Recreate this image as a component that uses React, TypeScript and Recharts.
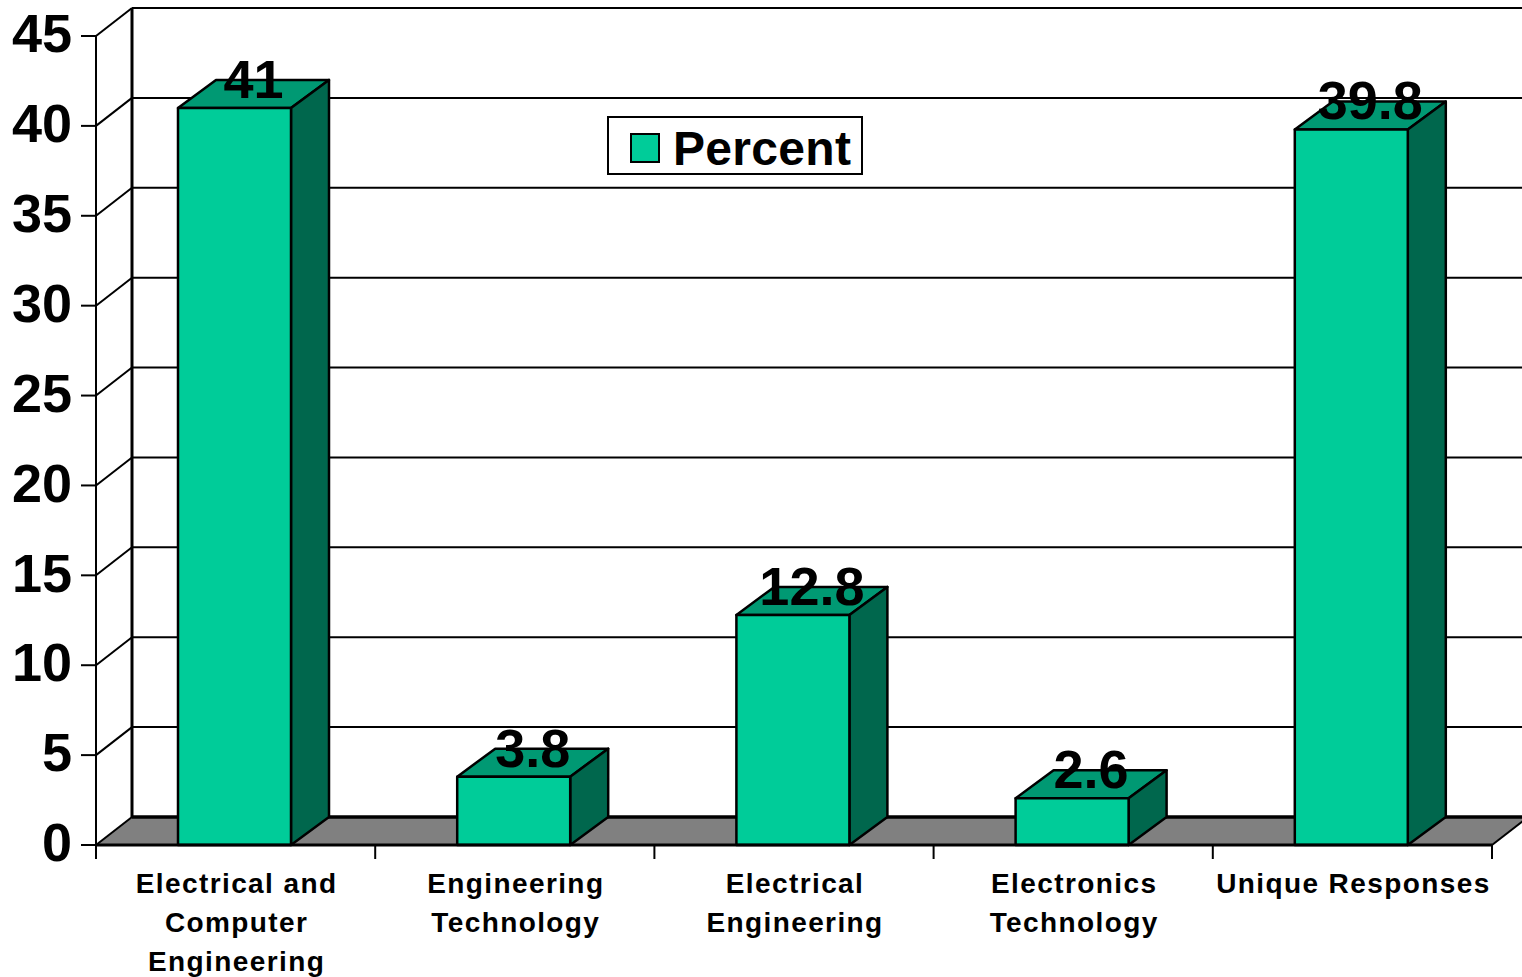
import { BarChart, Bar, XAxis, YAxis, CartesianGrid, Legend, LabelList } from 'recharts';

const categories = [
  'Electrical and\nComputer\nEngineering',
  'Engineering\nTechnology',
  'Electrical\nEngineering',
  'Electronics\nTechnology',
  'Unique Responses',
];
const percent = [41, 3.8, 12.8, 2.6, 39.8];
const yTicks = [0, 5, 10, 15, 20, 25, 30, 35, 40, 45];

const chartData = categories.map((name, i) => ({ name, Percent: percent[i] }));

const FONT = '"Liberation Sans", Arial, sans-serif';
const WIDTH = 1522;
const HEIGHT = 977;
const PLOT_LEFT = 96;
const PLOT_RIGHT = 1492;
const PLOT_TOP = 36;
const PLOT_BOTTOM = 845;
const BAND = (PLOT_RIGHT - PLOT_LEFT) / categories.length;

// fake 3D offsets: back wall, and the depth of each bar
const WALL_X = 36;
const DEPTH_X = 38;
const DEPTH_Y = 28;

const FRONT = '#00CC99';
const TOP = '#009973';
const SIDE = '#00674D';
const FLOOR = '#808080';

// Horizontal grid line pushed onto the back wall, with its diagonal on the side wall
const WallLine = (props: any) => {
  const { x1, y1, x2, y2 } = props;
  const isFloor = Math.abs(y1 - PLOT_BOTTOM) < 1;
  return (
    <g key={`wall-${y1}`}>
      {isFloor && (
        <>
          <polygon
            points={`${x1},${y1} ${x1 + WALL_X},${y1 - DEPTH_Y} ${x2 + WALL_X},${y1 - DEPTH_Y} ${x2},${y1}`}
            fill={FLOOR}
          />
          <line
            x1={x1 + WALL_X}
            y1={PLOT_TOP - DEPTH_Y}
            x2={x1 + WALL_X}
            y2={PLOT_BOTTOM - DEPTH_Y}
            stroke="#000"
            strokeWidth={3}
          />
          <line x1={x2} y1={y1} x2={x2 + WALL_X} y2={y1 - DEPTH_Y} stroke="#000" strokeWidth={2} />
        </>
      )}
      <line x1={x1} y1={y1} x2={x1 + WALL_X} y2={y1 - DEPTH_Y} stroke="#000" strokeWidth={2} />
      <line
        x1={x1 + WALL_X}
        y1={y1 - DEPTH_Y}
        x2={x2 + WALL_X}
        y2={y2 - DEPTH_Y}
        stroke="#000"
        strokeWidth={isFloor ? 3.5 : 2}
      />
    </g>
  );
};

const Box3D = (props: any) => {
  const { x, y, width, height } = props;
  const l = x - 1;
  const r = l + width;
  const b = y + height;
  return (
    <g stroke="#000" strokeWidth={2.5} strokeLinejoin="round">
      <polygon
        points={`${l},${y} ${l + DEPTH_X},${y - DEPTH_Y} ${r + DEPTH_X},${y - DEPTH_Y} ${r},${y}`}
        fill={TOP}
      />
      <polygon
        points={`${r},${y} ${r + DEPTH_X},${y - DEPTH_Y} ${r + DEPTH_X},${b - DEPTH_Y} ${r},${b}`}
        fill={SIDE}
      />
      <rect x={l} y={y} width={width} height={height} fill={FRONT} />
    </g>
  );
};

const ValueLabel = (props: any) => {
  const { x, y, width, value } = props;
  return (
    <text
      x={x + width / 2 + 18}
      y={y - 10}
      textAnchor="middle"
      fontFamily={FONT}
      fontWeight="bold"
      fontSize={54}
      fill="#000"
    >
      {value}
    </text>
  );
};

// Category label with the tick marks sitting on the band edges instead of the centre
const CategoryTick = (props: any) => {
  const { x, payload, index } = props;
  const lines = String(payload.value).split('\n');
  const edges = [x - BAND / 2];
  if (index === categories.length - 1) edges.push(x + BAND / 2);
  return (
    <g>
      {edges.map((ex) => (
        <line key={ex} x1={ex} y1={PLOT_BOTTOM} x2={ex} y2={PLOT_BOTTOM + 14} stroke="#000" strokeWidth={2} />
      ))}
      <text
        textAnchor="middle"
        fontFamily={FONT}
        fontWeight="bold"
        fontSize={28}
        letterSpacing={1.4}
        fill="#000"
      >
        {lines.map((line, i) => (
          <tspan key={line} x={x + 1} y={PLOT_BOTTOM + 48 + i * 39}>
            {line}
          </tspan>
        ))}
      </text>
    </g>
  );
};

const LegendBox = ({ payload }: any) => {
  const entry = payload?.[0];
  if (!entry) return null;
  return (
    <div
      style={{
        boxSizing: 'border-box',
        width: 256,
        height: 59,
        border: '2px solid #000',
        background: '#fff',
        display: 'flex',
        alignItems: 'center',
        paddingLeft: 21,
        paddingTop: 5,
        fontFamily: FONT,
        fontWeight: 'bold',
        fontSize: 48,
        letterSpacing: 0.3,
        color: '#000',
      }}
    >
      <span
        style={{
          boxSizing: 'border-box',
          width: 30,
          height: 30,
          border: '2px solid #000',
          background: entry.color,
          marginRight: 13,
        }}
      />
      {entry.value}
    </div>
  );
};

export default function App() {
  return (
    <div style={{ position: 'absolute', left: 0, top: 0, width: WIDTH, height: HEIGHT, background: '#fff' }}>
      <BarChart
        width={WIDTH}
        height={HEIGHT}
        data={chartData}
        margin={{ top: PLOT_TOP, right: WIDTH - PLOT_RIGHT, bottom: 0, left: 0 }}
      >
        <CartesianGrid vertical={false} horizontal={WallLine} />
        <XAxis
          dataKey="name"
          height={HEIGHT - PLOT_BOTTOM}
          interval={0}
          tick={CategoryTick}
          tickLine={false}
          axisLine={{ stroke: '#000', strokeWidth: 3 }}
        />
        <YAxis
          width={PLOT_LEFT}
          domain={[0, 45]}
          ticks={yTicks}
          interval={0}
          tickSize={15}
          tickMargin={9}
          axisLine={{ stroke: '#000', strokeWidth: 2 }}
          tickLine={{ stroke: '#000', strokeWidth: 2 }}
          tick={{ fill: '#000', fontFamily: FONT, fontWeight: 'bold', fontSize: 54, dy: -3 }}
        />
        <Legend
          layout="horizontal"
          verticalAlign="middle"
          content={LegendBox}
          wrapperStyle={{ left: 607, top: 116, width: 256, height: 59, bottom: 'auto', right: 'auto' }}
        />
        <Bar dataKey="Percent" fill={FRONT} barSize={113} shape={Box3D} isAnimationActive={false}>
          <LabelList dataKey="Percent" content={ValueLabel} />
        </Bar>
      </BarChart>
    </div>
  );
}
